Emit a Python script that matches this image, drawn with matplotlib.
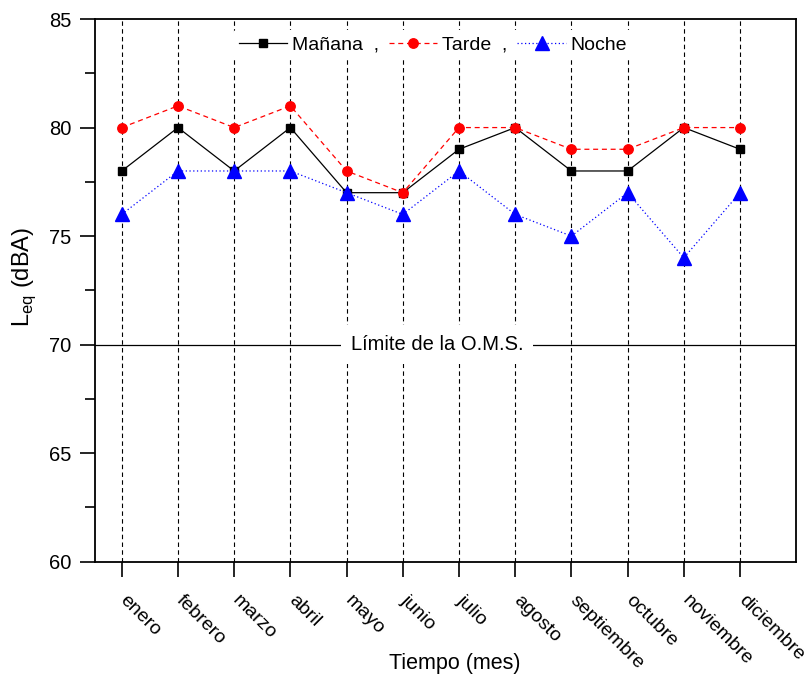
import numpy as np
import matplotlib.pyplot as plt
import matplotlib.transforms as mtransforms
from matplotlib.ticker import MultipleLocator

plt.rcParams['font.family'] = ['Liberation Sans', 'DejaVu Sans']

meses = ["enero", "febrero", "marzo", "abril", "mayo", "junio", "julio",
         "agosto", "septiembre", "octubre", "noviembre", "diciembre"]
manana = [78, 80, 78, 80, 77, 77, 79, 80, 78, 78, 80, 79]
tarde = [80, 81, 80, 81, 78, 77, 80, 80, 79, 79, 80, 80]
noche = [76, 78, 78, 78, 77, 76, 78, 76, 75, 77, 74, 77]
limite_oms = 70

x = np.arange(1, len(meses) + 1)

fig = plt.figure(figsize=(8.1, 6.8), dpi=100)
ax = fig.add_axes([0.117, 0.174, 0.866, 0.798])

# lineas verticales por mes
for xi in x:
    ax.axvline(xi, color='black', ls=(0, (4, 3)), lw=0.8, zorder=1)

# limite OMS
ax.axhline(limite_oms, color='black', lw=0.9, zorder=2)
ax.text(6.61, limite_oms, "Límite de la O.M.S.", ha='center', va='center',
        fontsize=14.5, zorder=3,
        bbox=dict(facecolor='white', edgecolor='none', pad=7))

ax.plot(x, manana, color='black', ls='-', lw=0.9, marker='s', ms=6,
        label="Mañana  ,", zorder=4)
ax.plot(x, tarde, color='#ff0000', ls=(0, (4, 3)), lw=0.9, marker='o', ms=6.8,
        label="Tarde  ,", zorder=4)
ax.plot(x, noche, color='#0000ff', ls=(0, (1, 2)), lw=0.9, marker='^', ms=10,
        label="Noche", zorder=4)

ax.set_xlim(0.52, 13.0)
ax.set_ylim(60, 85)
ax.yaxis.set_major_locator(MultipleLocator(5))
ax.yaxis.set_minor_locator(MultipleLocator(2.5))
ax.set_xticks(x)
ax.set_xticklabels(meses, rotation=-45, ha='left', va='top',
                   rotation_mode='anchor', fontsize=14)

ax.tick_params(axis='y', which='major', direction='out', length=11, width=1.2,
               labelsize=14.5, right=False, pad=6)
ax.tick_params(axis='y', which='minor', direction='out', length=7, width=1.2,
               right=False)
ax.tick_params(axis='x', direction='out', length=11, width=1.2, top=False,
               pad=11)
for s in ax.spines.values():
    s.set_linewidth(1.3)

# desplazar etiquetas del eje x un poco a la derecha
offset = mtransforms.ScaledTranslation(7 / 100, 0, fig.dpi_scale_trans)
for t in ax.xaxis.get_major_ticks():
    t.label1.set_transform(t.label1.get_transform() + offset)

ax.set_xlabel("Tiempo (mes)", fontsize=15.5)
ax.xaxis.set_label_coords(0.513, -0.168)
ax.set_ylabel(r"L$_{\mathregular{eq}}$ (dBA)", fontsize=17)
ax.yaxis.set_label_coords(-0.081, 0.525)

leg = ax.legend(loc='center', bbox_to_anchor=(0.482, 0.952), ncol=3,
                frameon=True, fontsize=14, handlelength=2.5,
                columnspacing=0.5, handletextpad=0.25, borderpad=0.3)
leg.get_frame().set_edgecolor('none')
leg.get_frame().set_facecolor('white')
leg.get_frame().set_alpha(1)
leg.set_zorder(5)

fig.savefig("out.png", dpi=100)
